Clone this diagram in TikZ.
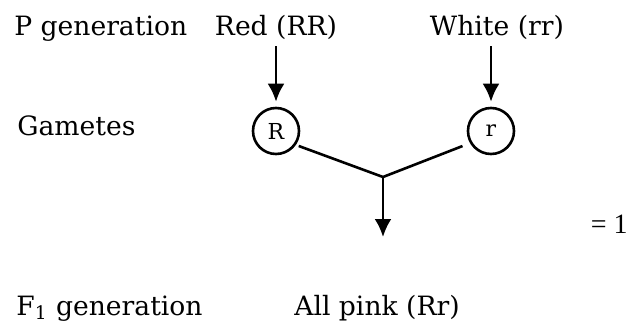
\documentclass[tikz,border=0pt]{standalone}
\usepackage{fontspec}
\setmainfont{DejaVu Serif}
\newfontfamily\timesfont{Liberation Serif}
\usetikzlibrary{arrows.meta}
\tikzset{arrow/.style = {> = {Latex[length = 9pt, width = 8.5pt]}}}
\usetikzlibrary{positioning}

\begin{document}
\begin{tikzpicture}[x = 0.5pt, y = -0.5pt, line width = 1.3pt,
	rowtext/.style = {inner sep = 0pt, anchor = base west, font = \fontsize{13.3}{15}\selectfont},
	parent/.style = {inner sep = 0pt, anchor = base, font = \fontsize{13.3}{15}\selectfont},
	gamete/.style = {circle, draw, minimum size = 23pt, inner sep = 0pt, font = \fontsize{11}{13}\selectfont}]
	\useasboundingbox (0, 0) rectangle (632, 327);

	%% Row labels
	\node[rowtext] (pgen) at (13, 35) {P generation};
	\node[rowtext] (gam) at (16, 135) {Gametes};
	\node[rowtext] (fgen) at (15, 315) {F\textsubscript{1} generation};

	%% Parents
	\node[parent] (red) at (276, 35) {Red (RR)};
	\node[parent] (white) at (497, 35) {White (rr)};

	%% Gametes
	\node[gamete] (R) at (276, 131) {R};
	\node[gamete] (r) at (491, 131) {r};
	\coordinate (join) at (383, 177);
	\coordinate (tip) at (383, 237);

	%% Offspring
	\node[rowtext] (pink) at (293, 315) {All pink (Rr)};
	\node[rowtext, anchor = base east, font = \timesfont\fontsize{14}{16}\selectfont] (ratio) at (629, 233) {= 1};

	%% Arrows...
	% ... parents to gametes
	\draw[->, arrow, shorten < = 3pt, shorten > = 2.5pt] (red.south -| R) -- (R.north);
	\draw[->, arrow, shorten < = 3pt, shorten > = 2.5pt] (white.south -| r) -- (r.north);

	% ... gametes to F1
	\draw[shorten < = 1.5pt, shorten > = 4pt] (R.-35) -- (join) -- (r.-150);
	\draw[->, arrow] (join) -- (tip);
\end{tikzpicture}
\end{document}
